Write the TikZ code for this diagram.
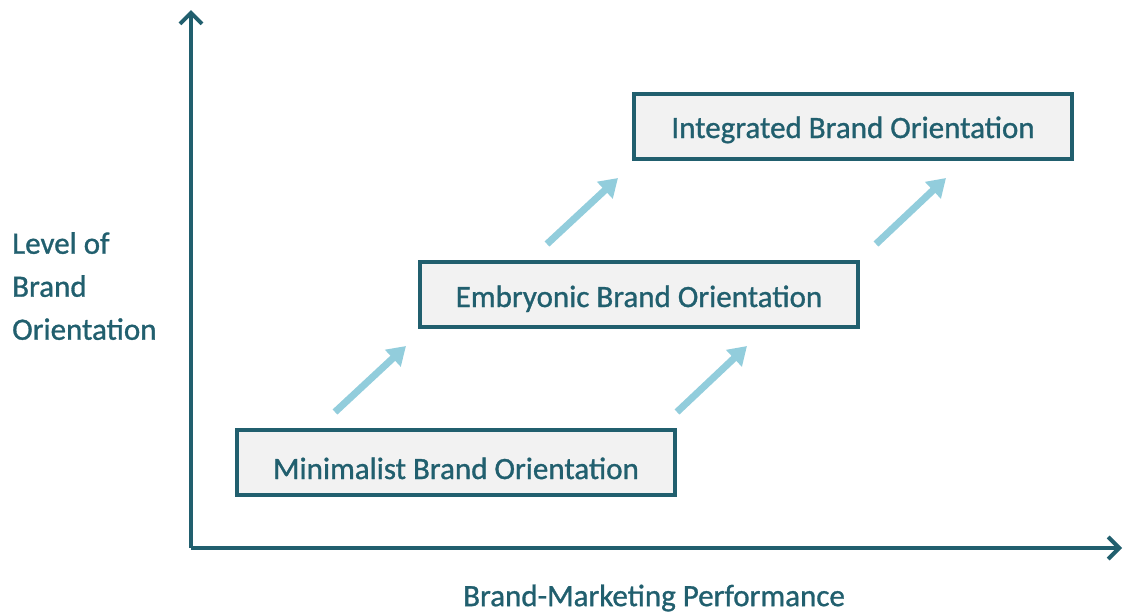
\documentclass[tikz,border=0pt]{standalone}
\usepackage{fontspec}
\setmainfont{Carlito}
\newfontfamily\semib{Carlito}[FakeBold=1.0]
\usetikzlibrary{arrows.meta}
\definecolor{teal}{HTML}{215F6E}
\definecolor{boxfill}{HTML}{F2F2F2}
\definecolor{lblue}{HTML}{92CDDC}
\tikzset{
  stagebox/.style={draw=teal, line width=4pt, fill=boxfill, minimum width=438pt, minimum height=65pt, inner sep=0pt, text height=25pt, text depth=0pt, font=\fontsize{31}{36}\semib, text=teal},
  axisline/.style={draw=teal, line width=4pt, -{Straight Barb[length=11pt,width=22pt,line width=4pt]}},
  uparrow/.style={draw=lblue, line width=7pt, -{Triangle[length=18pt,width=22pt]}},
  lbl/.style={font=\fontsize{31}{43}\semib, text=teal, inner sep=0pt}
}
\begin{document}
\begin{tikzpicture}[x=1pt,y=-1pt]
\useasboundingbox (0,0) rectangle (1126,614);
\coordinate (origin) at (191,548);
\coordinate (ytop) at (191,10);
\coordinate (xend) at (1122,548);
\draw[axisline] (origin) -- (ytop);
\draw[axisline] (origin) -- (xend);
\node[stagebox, text height=33pt] (minimal) at (456,462.5) {Minimalist Brand Orientation};
\node[stagebox] (embryo) at (639,294.5) {Embryonic Brand Orientation};
\node[stagebox, text height=24pt] (integ) at (853,126) {Integrated Brand Orientation};
\node[lbl, anchor=north west, align=left] (ylab) at (12,232) {Level of\\Brand\\Orientation};
\node[lbl] (xlab) at (654,598) {Brand-Marketing Performance};
\coordinate (a1s) at (335,412); \coordinate (a1e) at (406,346);
\coordinate (a2s) at (547,244); \coordinate (a2e) at (618,178);
\coordinate (a3s) at (677,412); \coordinate (a3e) at (747,346);
\coordinate (a4s) at (876,244); \coordinate (a4e) at (946,178);
\draw[uparrow] (a1s) -- (a1e);
\draw[uparrow] (a2s) -- (a2e);
\draw[uparrow] (a3s) -- (a3e);
\draw[uparrow] (a4s) -- (a4e);
\end{tikzpicture}
\end{document}
